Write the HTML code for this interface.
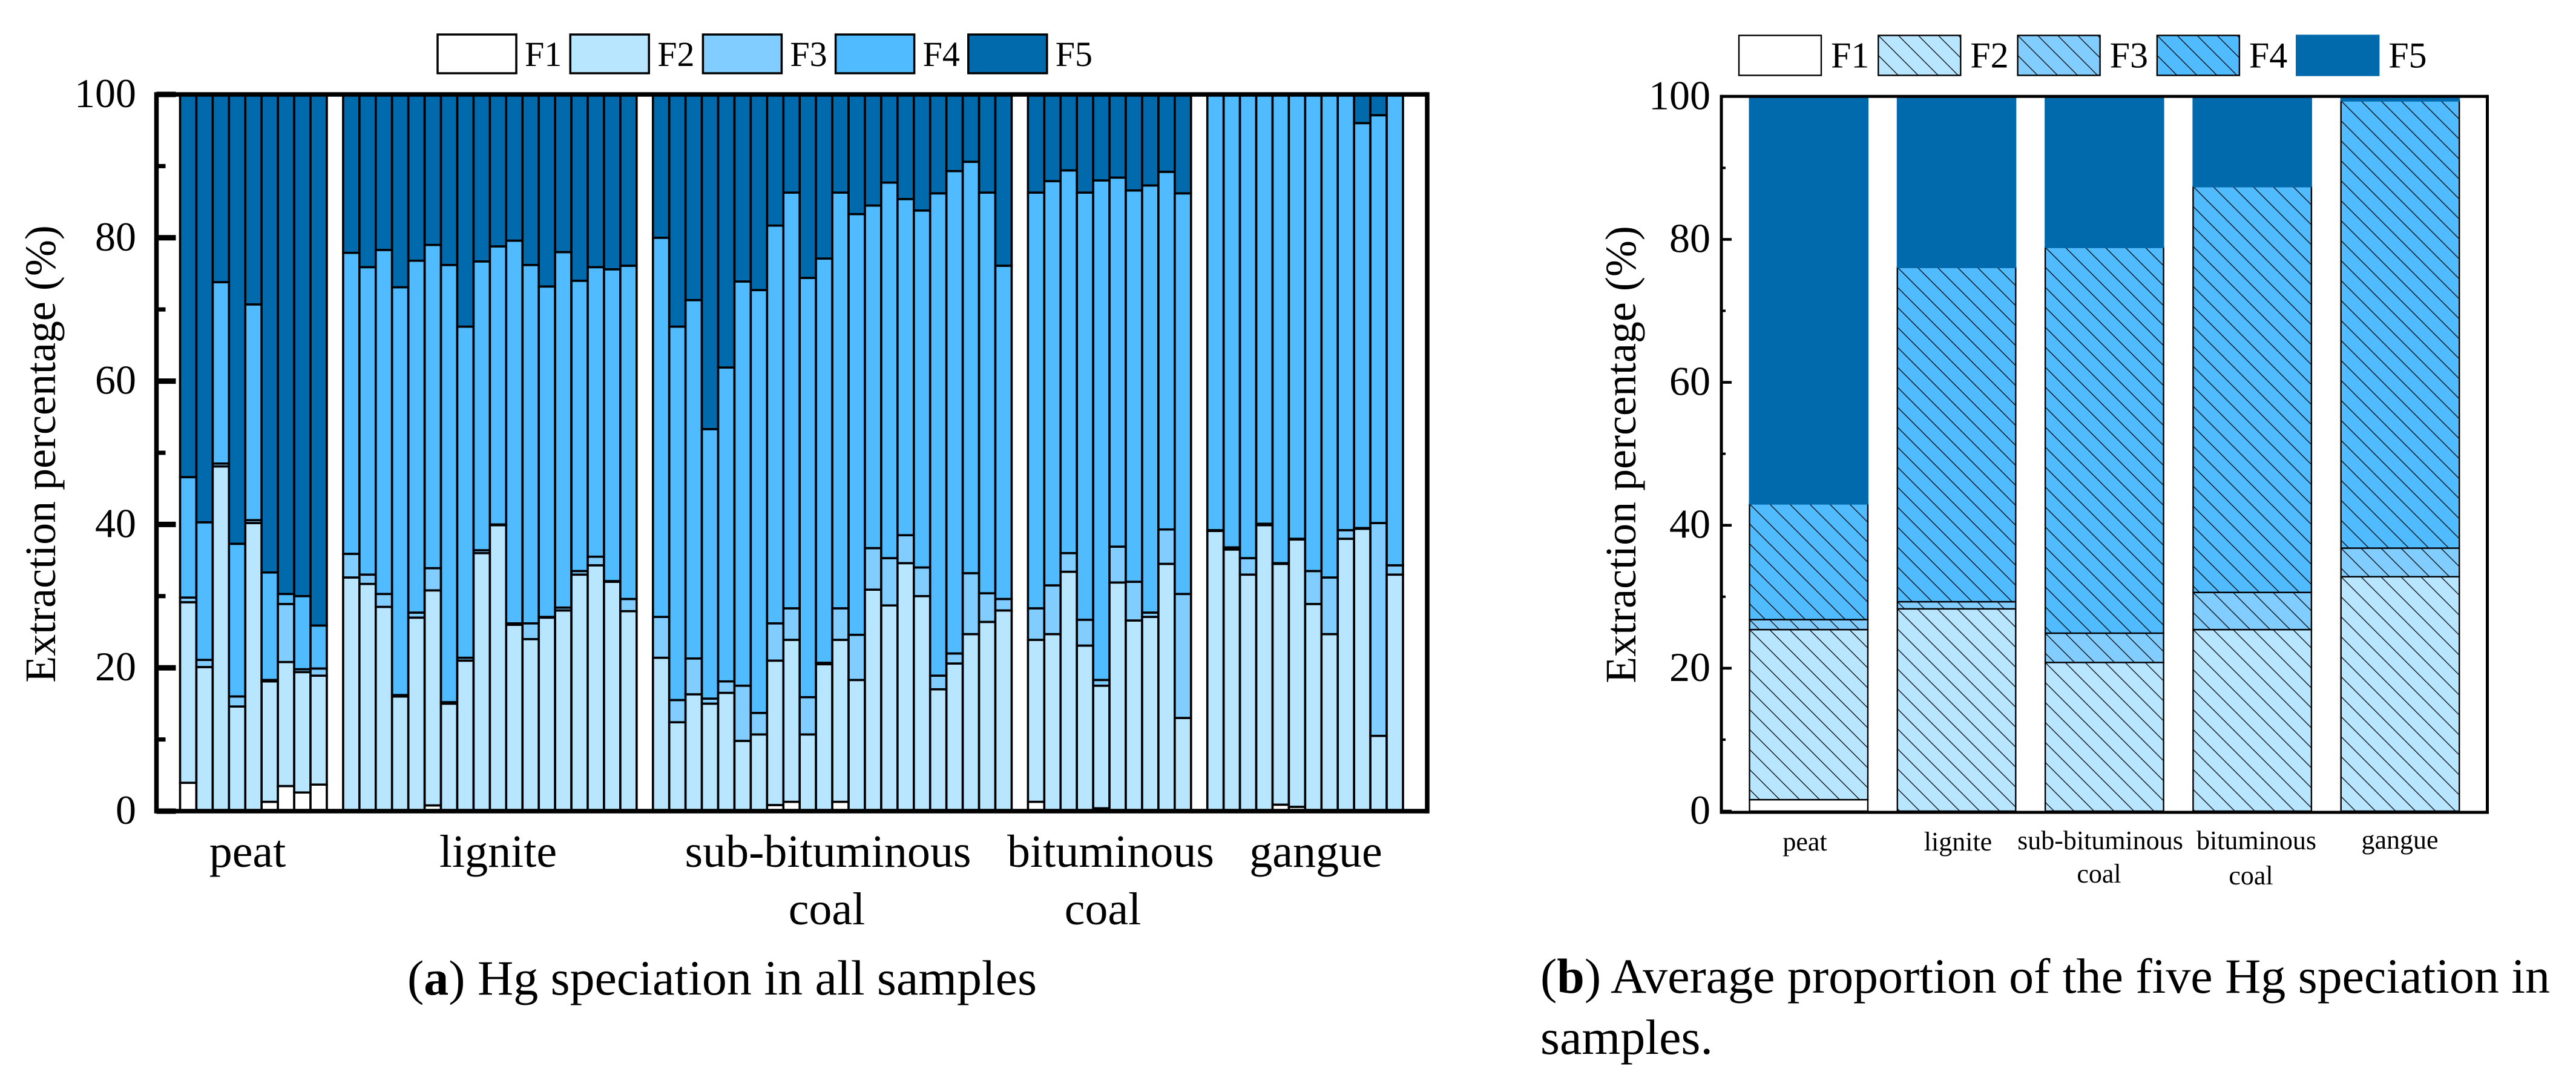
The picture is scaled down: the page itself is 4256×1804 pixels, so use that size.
<!DOCTYPE html>
<html lang="en">
<head>
<meta charset="utf-8">
<title>Hg speciation charts</title>
<style>
html,body{margin:0;padding:0;background:#fff;}
svg{display:block;}
text{font-family:"Liberation Serif",serif;fill:#000;}
</style>
</head>
<body>
<svg id="figure" xmlns="http://www.w3.org/2000/svg" width="4256" height="1804" viewBox="0 0 4256 1804">
  <defs id="defs"></defs>
  <g id="panelA"></g>
  <g id="panelB"></g>

  <text transform="translate(91 750) rotate(-90)" text-anchor="middle" font-size="72">Extraction percentage (%)</text>
  <text transform="translate(2702 751) rotate(-90)" text-anchor="middle" font-size="72">Extraction percentage (%)</text>

  <text x="409" y="1432" text-anchor="middle" font-size="76">peat</text>
  <text x="823" y="1432" text-anchor="middle" font-size="76">lignite</text>
  <text x="1368" y="1432" text-anchor="middle" font-size="76">sub-bituminous</text>
  <text x="1366" y="1527" text-anchor="middle" font-size="76">coal</text>
  <text x="1835" y="1432" text-anchor="middle" font-size="76">bituminous</text>
  <text x="1822" y="1527" text-anchor="middle" font-size="76">coal</text>
  <text x="2174" y="1432" text-anchor="middle" font-size="76">gangue</text>

  <text x="2982" y="1405" text-anchor="middle" font-size="44">peat</text>
  <text x="3235" y="1405" text-anchor="middle" font-size="44">lignite</text>
  <text x="3470" y="1403" text-anchor="middle" font-size="44">sub-bituminous</text>
  <text x="3468" y="1458" text-anchor="middle" font-size="44">coal</text>
  <text x="3728" y="1403" text-anchor="middle" font-size="44">bituminous</text>
  <text x="3719" y="1461" text-anchor="middle" font-size="44">coal</text>
  <text x="3965" y="1402" text-anchor="middle" font-size="44">gangue</text>

  <text x="673" y="1643" font-size="82" textLength="1040">(<tspan font-weight="bold">a</tspan>) Hg speciation in all samples</text>
  <text x="2545" y="1640" font-size="82" textLength="1668">(<tspan font-weight="bold">b</tspan>) Average proportion of the five Hg speciation in</text>
  <text x="2545" y="1741" font-size="82" textLength="285">samples.</text>
</svg>

<script>
// ---- Panel (a) data: upper boundary (%) of each fraction in the stacked bar of every sample ----
const groupNamesA = ["peat", "lignite", "sub-bituminous", "bituminous", "gangue"];
const groupSizesA = [9, 18, 22, 10, 12];
const f1TopA = [
  3.95,0,0,0,0,1.3,3.5,2.6,3.7,
  0,0,0,0,0,0.8,0,0,0,0,0,0,0,0,0,0,0,0,
  0,0,0,0,0,0,0,0.85,1.3,0,0,1.3,0,0,0,0,0,0,0,0,0,0,
  1.3,0,0,0,0.4,0,0,0,0,0,
  0,0,0,0,0.9,0.6,0,0,0,0,0,0
];
const f2TopA = [
  29.15,20.1,48.1,14.6,40.2,18.1,20.8,19.4,18.9,
  32.6,31.7,28.5,16.0,27.0,30.8,15.0,21.0,36.0,39.9,26.0,24.0,27.0,28.0,33.0,34.3,32.0,27.9,
  21.4,12.4,16.3,15.0,16.5,9.8,10.7,21.0,23.9,10.7,20.5,23.9,18.3,30.9,28.7,34.6,30.0,17.0,20.6,24.7,26.4,28.0,
  23.9,24.7,33.4,23.1,17.5,31.9,26.6,27.1,34.5,13.0,
  39.1,36.5,33.0,39.9,34.5,37.9,28.9,24.7,38.0,39.4,10.5,33.0
];
const f3TopA = [
  29.8,21.1,48.5,16.0,40.6,18.3,28.9,19.8,19.9,
  35.9,33.0,30.3,16.2,27.7,33.9,15.2,21.4,36.4,40.0,26.2,26.2,27.1,28.4,33.5,35.5,32.1,29.6,
  27.1,15.5,21.3,15.7,18.1,17.5,13.7,26.2,28.3,15.9,20.7,28.3,24.6,36.7,35.3,38.5,34.0,18.9,22.0,33.2,30.4,29.6,
  28.3,31.5,36.0,26.7,18.3,36.9,32.0,27.7,39.3,30.3,
  39.2,36.8,35.3,40.1,34.6,38.0,33.5,32.6,39.2,39.5,40.2,34.3
];
const f4TopA = [
  46.6,40.3,73.8,37.3,70.7,33.3,30.3,30.0,25.9,
  77.9,75.9,78.3,73.1,76.8,79.0,76.2,67.6,76.7,78.8,79.6,76.2,73.2,78.0,74.0,75.9,75.6,76.1,
  80.0,67.6,71.3,53.3,61.9,73.9,72.7,81.7,86.3,74.4,77.1,86.3,83.3,84.5,87.7,85.4,83.8,86.2,89.3,90.6,86.3,76.1,
  86.3,87.9,89.4,86.3,88.0,88.4,86.6,87.3,89.2,86.2,
  100,100,100,100,100,100,100,100,100,96.0,97.1,100
];

// ---- Panel (b) data: upper boundary (%) of each fraction in the averaged bars ----
const categoriesB = ["peat", "lignite", "sub-bituminous coal", "bituminous coal", "gangue"];
const f1TopB = [1.6, 0, 0, 0, 0];
const f2TopB = [25.4, 28.3, 20.8, 25.4, 32.8];
const f3TopB = [26.8, 29.3, 24.9, 30.6, 36.8];
const f4TopB = [43.0, 76.1, 78.9, 87.4, 99.4];

// ---- Axis tick values and legend ----
const majorTicks = [0, 20, 40, 60, 80, 100];
const minorTicks = [10, 30, 50, 70, 90];
const seriesNames = ["F1", "F2", "F3", "F4", "F5"];
const seriesColors = ["#ffffff", "#b8e5ff", "#82cdff", "#50bbff", "#006aac"];

const NS = "http://www.w3.org/2000/svg";
const defs = document.getElementById("defs");
const panelA = document.getElementById("panelA");
const panelB = document.getElementById("panelB");

function make(tag, attrs, parent) {
  const node = document.createElementNS(NS, tag);
  for (const k in attrs) node.setAttribute(k, attrs[k]);
  parent.appendChild(node);
  return node;
}

// Axis functions
const yA = v => 1340 - v * 11.84;
const yB = v => 1340 - v * 11.807;
const xA = slot => 297.5 + slot * 26.94;
const xB = i => 2889.5 + i * 244.3;
const BAR_A = 26.94;
const BAR_B = 197.5;

let hatchCount = 0;
function hatchFill(x, y, color) {
  hatchCount += 1;
  const id = "hatch" + hatchCount;
  const p = make("pattern", {id: id, patternUnits: "userSpaceOnUse", x: x, y: y, width: 33, height: 33}, defs);
  make("rect", {x: 0, y: 0, width: 33, height: 33, fill: color}, p);
  make("path", {d: "M0 0L33 33M-5 28L5 38M28 -5L38 5", stroke: "#000", "stroke-width": 1.3, fill: "none"}, p);
  return "url(#" + id + ")";
}

// ---- Panel (a) bars ----
(function drawBarsA() {
  let sample = 0;
  let slot = 0;
  groupNamesA.forEach(function (group, g) {
    for (let n = 0; n < groupSizesA[g]; n++) {
      const x = xA(slot);
      const bounds = [0, f1TopA[sample], f2TopA[sample], f3TopA[sample], f4TopA[sample], 100];
      for (let s = 0; s < 5; s++) {
        const lo = bounds[s];
        const hi = bounds[s + 1];
        if (hi <= lo) continue;
        const r = make("rect", {x: x, y: yA(hi), width: BAR_A, height: yA(lo) - yA(hi), fill: seriesColors[s], stroke: "#000", "stroke-width": 3.6}, panelA);
        
        
      }
      sample += 1;
      slot += 1;
    }
    slot += 1;
  });
})();

// ---- Panel (b) bars ----
(function drawBarsB() {
  categoriesB.forEach(function (cat, i) {
    const x = xB(i);
    const bounds = [0, f1TopB[i], f2TopB[i], f3TopB[i], f4TopB[i], 100];
    for (let s = 0; s < 5; s++) {
      const lo = bounds[s];
      const hi = bounds[s + 1];
      if (hi <= lo) continue;
      const y = yB(hi);
      let r;
      if (s === 4) {
        r = make("rect", {x: x, y: y, width: BAR_B, height: yB(lo) - y + 1.3, fill: seriesColors[s]}, panelB);
      } else {
        const fill = s === 0 ? seriesColors[s] : hatchFill(x + 1, y, seriesColors[s]);
        r = make("rect", {x: x + 1, y: y, width: BAR_B - 2, height: yB(lo) - y, fill: fill, stroke: "#000", "stroke-width": 2.4}, panelB);
      }
      
      
    }
  });
})();

// ---- Axes ----
function drawAxes(parent, yFn, cfg) {
  const l = make("line", {x1: cfg.left, x2: cfg.left, y1: cfg.top - cfg.w / 2, y2: cfg.bottom + cfg.w / 2, stroke: "#000", "stroke-width": cfg.w}, parent);
  
  
  const r = make("line", {x1: cfg.right, x2: cfg.right, y1: cfg.top - cfg.w / 2, y2: cfg.bottom + cfg.w / 2, stroke: "#000", "stroke-width": cfg.w}, parent);
  
  
  const t = make("line", {x1: cfg.left, x2: cfg.right, y1: cfg.top, y2: cfg.top, stroke: "#000", "stroke-width": cfg.w}, parent);
  
  
  const b = make("line", {x1: cfg.left, x2: cfg.right, y1: cfg.bottom, y2: cfg.bottom, stroke: "#000", "stroke-width": cfg.w}, parent);
  
  

  majorTicks.forEach(function (v) {
    const y = yFn(v);
    const tick = make("line", {x1: cfg.left, x2: cfg.left + cfg.major, y1: y, y2: y, stroke: "#000", "stroke-width": cfg.tickW}, parent);
    
    
    const label = make("text", {x: cfg.labelX, y: y + 21, "text-anchor": "end", "font-size": 68}, parent);
    label.textContent = String(v);
    
    
  });
  minorTicks.forEach(function (v) {
    const y = yFn(v);
    const tick = make("line", {x1: cfg.left, x2: cfg.left + cfg.minor, y1: y, y2: y, stroke: "#000", "stroke-width": cfg.minorW}, parent);
    
    
  });
}
drawAxes(panelA, yA, {tag: "a", left: 258.5, right: 2358, top: 156, bottom: 1340, w: 7.5, major: 32, minor: 15, tickW: 9, minorW: 7, labelX: 225});
drawAxes(panelB, yB, {tag: "b", left: 2844, right: 4109.5, top: 159.3, bottom: 1342, w: 5, major: 17, minor: 7, tickW: 4.5, minorW: 4, labelX: 2826});

// ---- Legends ----
function drawLegend(parent, cfg) {
  seriesNames.forEach(function (name, i) {
    const x = cfg.x + i * cfg.pitch;
    let fill = seriesColors[i];
    if (cfg.hatched && i >= 1 && i <= 3) fill = hatchFill(x, cfg.y, seriesColors[i]);
    const stroke = (cfg.hatched && i === 4) ? seriesColors[4] : "#000";
    const box = make("rect", {x: x, y: cfg.y, width: cfg.w, height: cfg.h, fill: fill, stroke: stroke, "stroke-width": cfg.sw}, parent);
    
    
    const label = make("text", {x: x + cfg.w + cfg.gap, y: cfg.base, "font-size": cfg.fs}, parent);
    label.textContent = name;
    
    
  });
}
drawLegend(panelA, {tag: "a", x: 723, y: 57, w: 130, h: 64, pitch: 219.2, gap: 14, base: 109, fs: 58, sw: 3.5, hatched: false});
drawLegend(panelB, {tag: "b", x: 2873, y: 58.5, w: 136, h: 66, pitch: 230.3, gap: 16, base: 111.5, fs: 60, sw: 2.4, hatched: true});
</script>
</body>
</html>
